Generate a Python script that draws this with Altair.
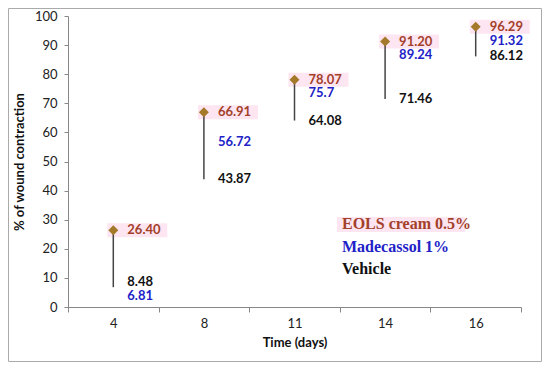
import altair as alt
import pandas as pd

days = ["4", "8", "11", "14", "16"]
eols = [26.40, 66.91, 78.07, 91.20, 96.29]
madecassol = [6.81, 56.72, 75.7, 89.24, 91.32]
vehicle = [8.48, 43.87, 64.08, 71.46, 86.12]
eols_labels = ["26.40", "66.91", "78.07", "91.20", "96.29"]
madecassol_labels = ["6.81", "56.72", "75.7", "89.24", "91.32"]
vehicle_labels = ["8.48", "43.87", "64.08", "71.46", "86.12"]

legend_names = ["EOLS cream 0.5%", "Madecassol 1%", "Vehicle"]

RED = "#A3402A"
BLUE = "#2121C8"
BLACK = "#111111"
PINK = "#FDE6F1"
DIAMOND = "#A47A2A"

df = pd.DataFrame({
    "day": days,
    "eols": eols,
    "madecassol": madecassol,
    "vehicle": vehicle,
    "eols_l": eols_labels,
    "mad_l": madecassol_labels,
    "veh_l": vehicle_labels,
})
df["high"] = df[["eols", "madecassol", "vehicle"]].max(axis=1)
df["low"] = df[["eols", "madecassol", "vehicle"]].min(axis=1)

FONT = "Lato"

x = alt.X(
    "day:N", sort=days,
    scale=alt.Scale(paddingInner=0, paddingOuter=0),
    axis=alt.Axis(title="Time (days)", labelAngle=0, tickBand="extent",
                  labelFontSize=13, titleFontSize=13, titleFontWeight="bold",
                  labelPadding=5, titlePadding=6, tickSize=5),
)

def yenc(field):
    return alt.Y(
        field, scale=alt.Scale(domain=[0, 100], nice=False),
        axis=alt.Axis(title="% of wound contraction", values=list(range(0, 101, 10)),
                      labelFontSize=13, titleFontSize=13, titleFontWeight="bold",
                      labelPadding=7, titlePadding=8, tickSize=4),
    )

base = alt.Chart(df)

pink_bg = base.mark_point(
    shape="M-1,-0.233L1,-0.233L1,0.233L-1,0.233Z", filled=True, opacity=1,
    color=PINK, size=3600, xOffset=24, strokeWidth=0,
).encode(x=x, y=yenc("eols:Q"))

rule = base.mark_rule(color="#444444", strokeWidth=1.5).encode(
    x=x, y=yenc("high:Q"), y2="low:Q")

diamond = base.mark_point(shape="diamond", filled=True, opacity=1,
                          color=DIAMOND, size=100).encode(x=x, y=yenc("eols:Q"))

txt_e = base.mark_text(align="left", dx=14, font=FONT, fontSize=13,
                       fontWeight="bold", color=RED).encode(
    x=x, y=yenc("eols:Q"), text="eols_l:N")

# keep the Madecassol label clear of its neighbours, as the spreadsheet does
txt_m = base.transform_calculate(
    mad_pos="min(datum.madecassol, datum.eols - 4.7, "
            "datum.vehicle > datum.madecassol ? datum.vehicle - 4.7 : datum.madecassol)"
).mark_text(align="left", dx=14, font=FONT, fontSize=13,
            fontWeight="bold", color=BLUE).encode(
    x=x, y=yenc("mad_pos:Q"), text="mad_l:N")
txt_v = base.mark_text(align="left", dx=14, font=FONT, fontSize=13,
                       fontWeight="bold", color=BLACK).encode(
    x=x, y=yenc("vehicle:Q"), text="veh_l:N")

one = pd.DataFrame({"k": [0]})
leg_bg = alt.Chart(one).mark_rect(color=PINK).encode(
    x=alt.value(269), x2=alt.value(397), y=alt.value(201), y2=alt.value(216))
leg = []
for name, col, yy in zip(legend_names, [RED, BLUE, BLACK], [208, 231, 253]):
    leg.append(alt.Chart(one).mark_text(
        text=name, align="left", baseline="middle", font="Liberation Serif",
        fontSize=16, fontWeight="bold", color=col,
    ).encode(x=alt.value(274), y=alt.value(yy)))

border = alt.Chart(one).mark_rect(fill=None, stroke="#AAAAAA", strokeWidth=1).encode(
    x=alt.value(-59.5), x2=alt.value(473.5), y=alt.value(-7.5), y2=alt.value(345.5))

chart = alt.layer(
    border, pink_bg, rule, diamond, txt_v, txt_m, txt_e, leg_bg, *leg
).properties(
    width=453, height=291,
    padding={"left": 60, "top": 8, "right": 21, "bottom": 55},
    autosize=alt.AutoSizeParams(type="none"),
).configure_view(stroke=None).configure_axis(
    domainColor="#888888", tickColor="#888888", labelColor="#222222",
    titleColor="#111111", labelFont=FONT, titleFont=FONT, grid=False,
)

chart.save("out.html", embed_options={"renderer": "svg", "actions": False})
